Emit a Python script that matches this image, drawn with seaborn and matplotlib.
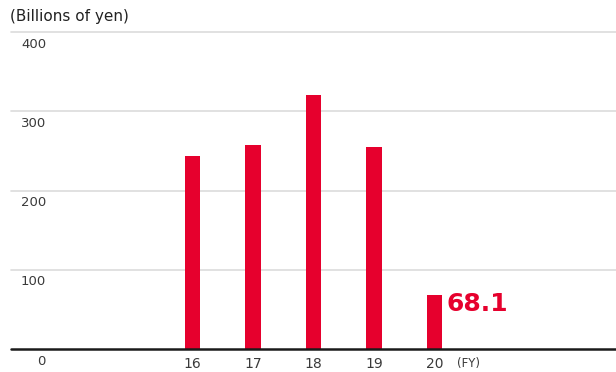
import matplotlib
matplotlib.use('Agg')
import matplotlib.pyplot as plt
import matplotlib.transforms as mtransforms
import seaborn as sns
import pandas as pd

# data
years = ['16', '17', '18', '19', '20']
values = [244.0, 258.0, 320.0, 255.0, 68.1]
y_ticks = [0, 100, 200, 300, 400]

RED = '#E6002D'
TEXT = '#3a3a3a'

sns.set_theme(style='white')
plt.rcParams['font.family'] = ['DejaVu Sans']

df = pd.DataFrame({'FY': years, 'value': values})

fig = plt.figure(figsize=(6.16, 3.72), dpi=100)
ax = fig.add_axes([11 / 616, 1 - 349 / 372, 1 - 11 / 616, (349 - 32) / 372])

sns.barplot(data=df, x='FY', y='value', color=RED, width=0.264,
            saturation=1, linewidth=0, ax=ax, zorder=3)

ax.set_xlim(-3.0, 7.0)
ax.set_ylim(0, 400)

# light grid lines + heavy baseline
for t in y_ticks[1:]:
    ax.axhline(t, color='#dcdcdc', linewidth=1.2, zorder=1, clip_on=False)
ax.axhline(0, color='#1a1a1a', linewidth=1.8, zorder=4, clip_on=False)

for s in ['top', 'right', 'left', 'bottom']:
    ax.spines[s].set_visible(False)

ax.set_yticks([])
ax.set_xlabel('')
ax.set_ylabel('')
ax.tick_params(axis='x', length=0, pad=6, labelsize=10, labelcolor=TEXT)

# y labels sit just under each grid line
trans = mtransforms.blended_transform_factory(fig.transFigure, ax.transData)
trans = trans + mtransforms.ScaledTranslation(0, -4 / 72, fig.dpi_scale_trans)
for t in y_ticks:
    ax.text(46 / 616, t, str(t), transform=trans, ha='right', va='top',
            fontsize=9.5, color=TEXT)

ax.text(4.2, values[-1] + 4, f'{values[-1]:.1f}', ha='left', va='top',
        fontsize=18, fontweight='bold', color=RED)

fig.text(468 / 616, 1 - 363 / 372, '(FY)', ha='center', va='center',
         fontsize=8.5, color=TEXT)
fig.text(10 / 616, 1 - 17 / 372, '(Billions of yen)', ha='left', va='center',
         fontsize=11, color='#222222')

fig.savefig('out.png', dpi=100)
